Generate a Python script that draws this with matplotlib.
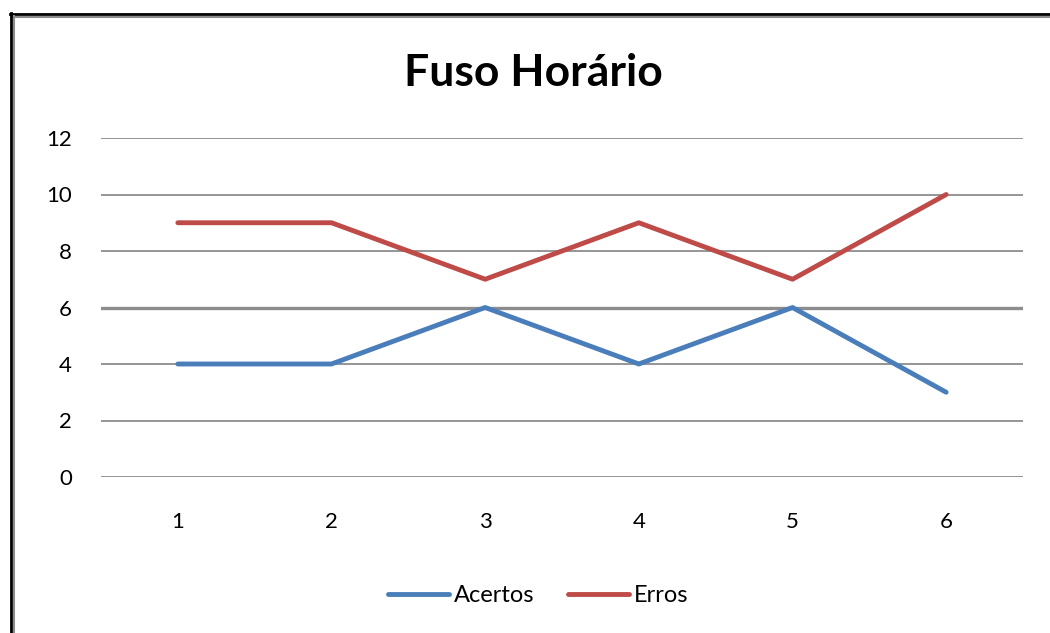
import matplotlib.pyplot as plt
from matplotlib.lines import Line2D

categories = [1, 2, 3, 4, 5, 6]
acertos = [4, 4, 6, 4, 6, 3]
erros = [9, 9, 7, 9, 7, 10]
yticks = [0, 2, 4, 6, 8, 10, 12]

W, H = 1050, 633
fig = plt.figure(figsize=(W / 100, H / 100), dpi=100)
fig.patch.set_facecolor("white")

# plot area in pixel coordinates of the reference
left, right, top, bottom = 101, 1023, 138, 477
ax = fig.add_axes([left / W, 1 - bottom / H, (right - left) / W, (bottom - top) / H])

font = "Lato"

# gridlines
for y in yticks:
    lw = 2.4 if y == 6 else 1.3
    ax.axhline(y, color="#8c8c8c", lw=lw, zorder=1)

x = list(range(len(categories)))
ax.plot(x, acertos, color="#4a7ebb", lw=3.5, solid_capstyle="round", label="Acertos", zorder=3)
ax.plot(x, erros, color="#be4b48", lw=3.5, solid_capstyle="round", label="Erros", zorder=3)

ax.set_xlim(-0.5, len(categories) - 0.5)
ax.set_ylim(0, 12)
ax.set_yticks(yticks)
ax.set_yticklabels([str(v) for v in yticks], fontsize=16, family=font)
ax.set_xticks(x)
ax.set_xticklabels([str(c) for c in categories], fontsize=16, family=font)
ax.tick_params(axis="both", length=0)
ax.tick_params(axis="y", pad=21)
ax.tick_params(axis="x", pad=25)
for s in ax.spines.values():
    s.set_visible(False)

fig.text(533 / W, 1 - 73 / H, "Fuso Horário", ha="center", va="center",
         fontsize=32, fontweight="bold", family=font)

leg = fig.legend(loc="center", bbox_to_anchor=(538 / W, 1 - 596 / H), ncol=2,
                 frameon=False, prop={"family": font, "size": 17},
                 handlelength=2.6, handletextpad=0.2, columnspacing=1.4)

# outer double border (top and left only, as in the reference)
fig.add_artist(Line2D([10 / W, 1], [1 - 14 / H, 1 - 14 / H], color="black", lw=2.0, transform=fig.transFigure))
fig.add_artist(Line2D([13 / W, 1], [1 - 16.5 / H, 1 - 16.5 / H], color="#8c8c8c", lw=1.5, transform=fig.transFigure))
fig.add_artist(Line2D([11 / W, 11 / W], [0, 1 - 13 / H], color="black", lw=2.0, transform=fig.transFigure))
fig.add_artist(Line2D([13.5 / W, 13.5 / W], [0, 1 - 15.5 / H], color="#8c8c8c", lw=1.5, transform=fig.transFigure))

fig.savefig("out.png", dpi=100)
